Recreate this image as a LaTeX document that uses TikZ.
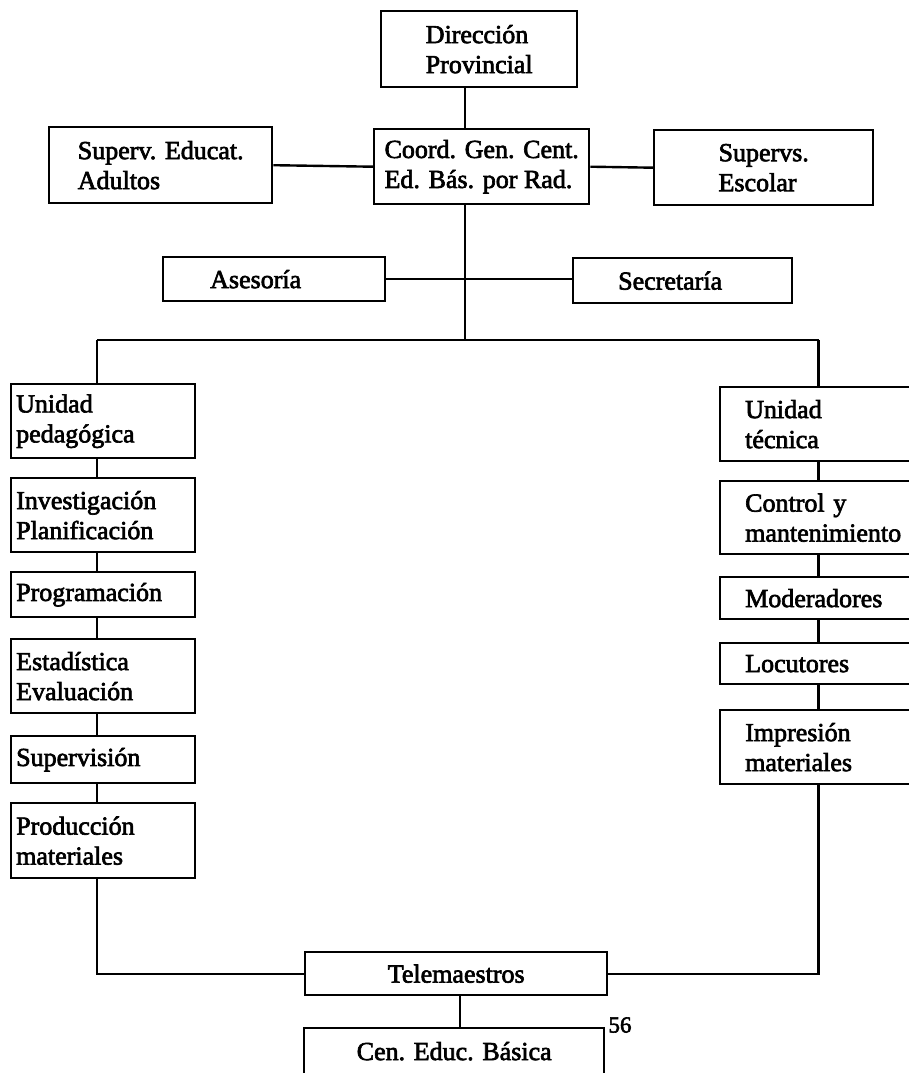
\documentclass[tikz,border=0pt]{standalone}
\usepackage{fontspec}
\setmainfont{Liberation Serif}[FakeBold=2.5]
\begin{document}
\begin{tikzpicture}[x=1pt,y=-1pt,
  bx/.style={draw, line width=2.4pt, inner ysep=0pt, anchor=north west,
    font=\fontsize{26}{30}\selectfont},
  cbx/.style 2 args={bx, minimum width=#1, minimum height=#2, align=left, inner xsep=0pt},
  tbx/.style 2 args={bx, minimum width=#1, minimum height=#2, align=center, inner xsep=0pt},
  lbx/.style n args={3}{bx, inner xsep=#2, text width=#3, minimum height=#1, align=left},
  ln/.style={line width=2.4pt}
]
\useasboundingbox (0,0) rectangle (909,1073);
% top level
\node[cbx={196}{76}] (dir) at (380,10) {Dirección\\Provincial};
\node[cbx={215}{75}] (coord) at (373,128) {Coord. Gen. Cent.\\Ed. Bás. por Rad.};
\node[cbx={223}{76}] (sea) at (48,126) {Superv. Educat.\\Adultos};
\node[cbx={219}{75}] (sesc) at (653,129) {Supervs.\\Escolar};
\node[lbx={44}{47}{128}] (ases) at (162,256) {Asesoría};
\node[lbx={45}{45}{129}] (sec) at (572,257) {Secretaría};
% left column
\node[lbx={74}{5}{174}] (up) at (10,383) {Unidad\\pedagógica};
\node[lbx={74}{5}{174}] (inv) at (10,477) {Investigación\\Planificación};
\node[lbx={45}{5}{174}] (prog) at (10,571) {Programación};
\node[lbx={74}{5}{174}] (est) at (10,638) {Estadística\\Evaluación};
\node[lbx={47}{5}{174}] (sup) at (10,735) {Supervisión};
\node[lbx={75}{5}{174}] (prod) at (10,802) {Producción\\materiales};
% right column
\node[lbx={74}{25}{191}] (ut) at (719,386) {Unidad\\técnica};
\node[lbx={73}{25}{191}] (cm) at (719,480) {Control y\\mantenimiento};
\node[lbx={42}{25}{191}] (mod) at (719,576) {Moderadores};
\node[lbx={41}{25}{191}] (loc) at (719,642) {Locutores};
\node[lbx={74}{25}{191}] (imp) at (719,709) {Impresión\\materiales};
% bottom
\node[tbx={302}{43}] (tele) at (304,951) {Telemaestros};
\node[tbx={300}{46}] (cen) at (303,1027) {Cen. Educ. Básica};
\node[font=\fontsize{23}{23}\selectfont, inner sep=0pt] (pn) at (620,1025) {56};
% spine coordinates
\coordinate (sx) at (465,0);
\coordinate (bus) at (465,340);
\coordinate (lbus) at (97,340);
\coordinate (rbus) at (818.5,340);
\coordinate (tsx) at (460,0);
% connectors
\draw[ln] (dir.south -| sx) -- (coord.north -| sx);
\draw[ln] (sea.east) -- (coord.west);
\draw[ln] (coord.east) -- (sesc.west);
\draw[ln] (coord.south -| sx) -- (bus);
\draw[ln] (ases.east) -- (ases.east -| sec.west);
\draw[ln] (lbus) -- (rbus);
\draw[ln] (lbus) -- (up.north -| lbus);
\draw[ln] (rbus) -- (ut.north -| rbus);
\draw[ln] (up.south -| lbus) -- (inv.north -| lbus);
\draw[ln] (inv.south -| lbus) -- (prog.north -| lbus);
\draw[ln] (prog.south -| lbus) -- (est.north -| lbus);
\draw[ln] (est.south -| lbus) -- (sup.north -| lbus);
\draw[ln] (sup.south -| lbus) -- (prod.north -| lbus);
\draw[ln] (ut.south -| rbus) -- (cm.north -| rbus);
\draw[ln] (cm.south -| rbus) -- (mod.north -| rbus);
\draw[ln] (mod.south -| rbus) -- (loc.north -| rbus);
\draw[ln] (loc.south -| rbus) -- (imp.north -| rbus);
\draw[ln] (prod.south -| lbus) |- (tele.west);
\draw[ln] (imp.south -| rbus) |- (tele.east);
\draw[ln] (tele.south -| tsx) -- (cen.north -| tsx);
\end{tikzpicture}
\end{document}
